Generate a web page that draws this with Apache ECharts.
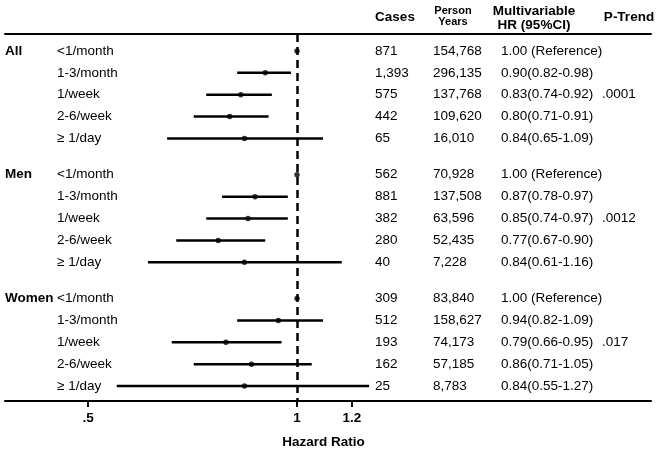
<!DOCTYPE html>
<html><head><meta charset="utf-8">
<script src="https://cdn.jsdelivr.net/npm/echarts@6/dist/echarts.min.js"></script>
<style>html,body{margin:0;padding:0;background:#fff}#c{width:660px;height:454px}</style>
</head><body><div id="c"></div>
<script>
// ---- data ----
const groups = ['All', 'Men', 'Women'];
const categories = ['<1/month', '1-3/month', '1/week', '2-6/week', '≥ 1/day'];
const cases = ['871', '1,393', '575', '442', '65',
               '562', '881', '382', '280', '40',
               '309', '512', '193', '162', '25'];
const personYears = ['154,768', '296,135', '137,768', '109,620', '16,010',
                     '70,928', '137,508', '63,596', '52,435', '7,228',
                     '83,840', '158,627', '74,173', '57,185', '8,783'];
const hr     = [1.00, 0.90, 0.83, 0.80, 0.84,  1.00, 0.87, 0.85, 0.77, 0.84,  1.00, 0.94, 0.79, 0.86, 0.84];
const ciLow  = [null, 0.82, 0.74, 0.71, 0.65,  null, 0.78, 0.74, 0.67, 0.61,  null, 0.82, 0.66, 0.71, 0.55];
const ciHigh = [null, 0.98, 0.92, 0.91, 1.09,  null, 0.97, 0.97, 0.90, 1.16,  null, 1.09, 0.95, 1.05, 1.27];
const pTrend = ['.0001', '.0012', '.017'];
const pTrendRow = 2;
const xTicks = [0.5, 1, 1.2];
const xTickLabels = ['.5', '1', '1.2'];
const headers = {cases: 'Cases', py: 'Person\nYears', hr: 'Multivariable\nHR (95%CI)', p: 'P-Trend'};
const axisTitle = 'Hazard Ratio';

// ---- layout ----
const FONT = "'Liberation Sans', Arial, sans-serif";
const FS = 13.5;
const GROUP_STEP = 5.66;
const GRID = {left: 5, right: 9, top: 34, bottom: 51};
const Y_MIN = -0.7727, Y_MAX = 16.0;
const X_MIN = -0.4206, X_MAX = 0.5099; // log10 space

const rows = [];
groups.forEach((g, gi) => {
  categories.forEach((c, ci) => {
    const idx = gi * categories.length + ci;
    rows.push({
      pos: gi * GROUP_STEP + ci,
      group: ci === 0 ? g : '',
      cat: c,
      cases: cases[idx],
      py: personYears[idx],
      hr: hr[idx], lo: ciLow[idx], hi: ciHigh[idx],
      hrText: ciLow[idx] == null ? hr[idx].toFixed(2) + ' (Reference)'
        : hr[idx].toFixed(2) + '(' + ciLow[idx].toFixed(2) + '-' + ciHigh[idx].toFixed(2) + ')',
      p: ci === pTrendRow ? pTrend[gi] : ''
    });
  });
});
const positions = rows.map(r => r.pos);
function rowAt(v) {
  let best = rows[0], d = Infinity;
  rows.forEach(r => { const dd = Math.abs(r.pos - v); if (dd < d) { d = dd; best = r; } });
  return best;
}
const lg = Math.log10;

function colAxis(x, field, bold) {
  return {
    type: 'value', position: 'left', offset: GRID.left - x,
    min: Y_MIN, max: Y_MAX, inverse: true,
    axisLine: {show: false, onZero: false}, axisTick: {show: false}, splitLine: {show: false},
    axisLabel: {
      show: true, customValues: positions, margin: 0, align: 'left',
      fontFamily: FONT, fontSize: FS, color: '#000', fontWeight: bold ? 'bold' : 'normal',
      formatter: v => rowAt(v)[field]
    }
  };
}

const yAxes = [
  colAxis(5, 'group', true),
  colAxis(57, 'cat', false),
  colAxis(375, 'cases', false),
  colAxis(433, 'py', false),
  colAxis(501, 'hrText', false),
  colAxis(602, 'p', false)
];

const ciData = rows.filter(r => r.lo != null).map(r => [lg(r.lo), lg(r.hi), r.pos]);
const ptData = rows.map(r => [lg(r.hr), r.pos]);

function hdr(text, x, y, fs, lh) {
  return {
    text: text, left: x, top: y, padding: 0, textAlign: 'center', textVerticalAlign: 'middle',
    textStyle: {fontFamily: FONT, fontSize: fs, fontWeight: 'bold', color: '#000', lineHeight: lh}
  };
}

const option = {
  animation: false,
  backgroundColor: '#fff',
  title: [
    hdr(headers.cases, 395, 17, FS, 16),
    hdr(headers.py, 453, 16, 11, 11),
    hdr(headers.hr, 534, 18.5, FS, 13.5),
    hdr(headers.p, 629, 17, FS, 16)
  ],
  grid: GRID,
  xAxis: [{
    type: 'value', position: 'bottom', min: X_MIN, max: X_MAX,
    axisLine: {show: true, onZero: false, lineStyle: {color: '#000', width: 2}},
    axisTick: {show: true, customValues: xTicks.map(lg), length: 6, lineStyle: {color: '#000', width: 2}},
    axisLabel: {
      show: true, customValues: xTicks.map(lg), margin: 10,
      fontFamily: FONT, fontSize: FS, fontWeight: 'bold', color: '#000',
      formatter: v => { const i = xTicks.findIndex(t => Math.abs(lg(t) - v) < 1e-6); return i >= 0 ? xTickLabels[i] : ''; }
    },
    splitLine: {show: false},
    name: axisTitle, nameLocation: 'middle', nameGap: 41,
    nameTextStyle: {fontFamily: FONT, fontSize: FS, fontWeight: 'bold', color: '#000', verticalAlign: 'middle', padding: [0, 9, 0, 0]}
  }, {
    type: 'value', position: 'top', min: X_MIN, max: X_MAX,
    axisLine: {show: true, onZero: false, lineStyle: {color: '#000', width: 2}},
    axisTick: {show: false}, axisLabel: {show: false}, splitLine: {show: false}
  }],
  yAxis: yAxes,
  series: [{
    type: 'custom', xAxisIndex: 0, yAxisIndex: 0, silent: true,
    encode: {x: [0, 1], y: 2},
    data: ciData,
    renderItem: (params, api) => {
      const p1 = api.coord([api.value(0), api.value(2)]);
      const p2 = api.coord([api.value(1), api.value(2)]);
      return {type: 'line', shape: {x1: p1[0], y1: p1[1], x2: p2[0], y2: p2[1]},
              style: {stroke: '#000', lineWidth: 2.5}};
    },
    z: 2,
    markLine: {
      silent: true, symbol: 'none', label: {show: false},
      lineStyle: {color: '#000', width: 2.5, type: [8, 5]},
      data: [{xAxis: 0}]
    }
  }, {
    type: 'scatter', xAxisIndex: 0, yAxisIndex: 0, silent: true,
    symbol: 'circle', symbolSize: 5.5, itemStyle: {color: '#000'},
    data: ptData, z: 5
  }]
};
const chart = echarts.init(document.getElementById('c'), null, {renderer: 'canvas'});
chart.setOption(option);
</script>
</body></html>
